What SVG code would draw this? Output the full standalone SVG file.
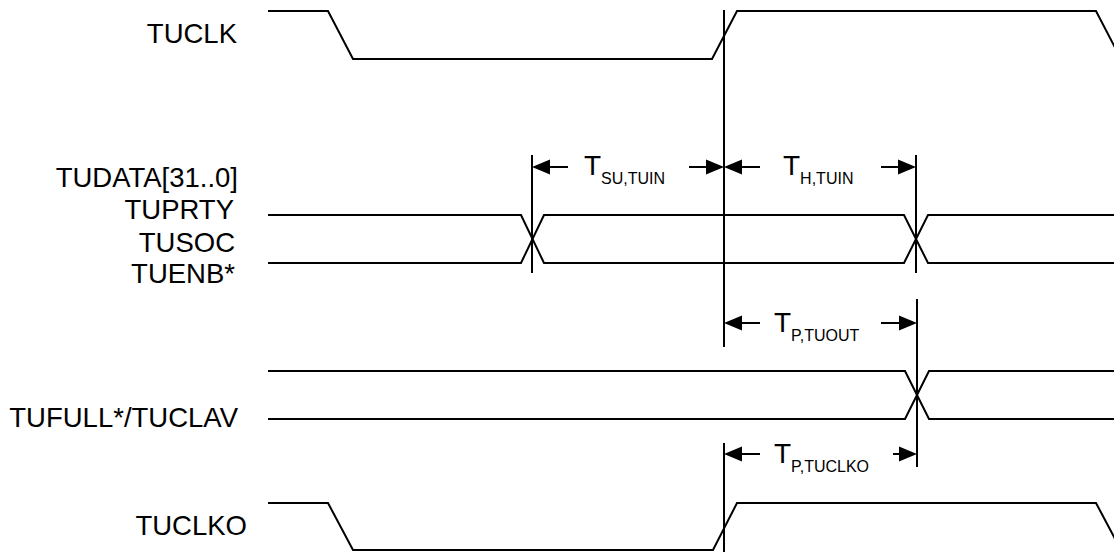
<svg xmlns="http://www.w3.org/2000/svg" width="1114" height="552" viewBox="0 0 1114 552">
<style>
.sig{fill:none;stroke:#000;stroke-width:2;stroke-linejoin:miter}
.vl{fill:none;stroke:#000;stroke-width:2}
.lbl{font-family:"Liberation Sans",Arial,sans-serif;font-size:27.5px;fill:#000;text-anchor:end}
.t{font-family:"Liberation Sans",Arial,sans-serif;font-size:28px;fill:#000}
.sub{font-size:16px}
.ah{fill:#000;stroke:none}
</style>
<defs>
<path id="hl" d="M0,0 L18,-7.5 L18,7.5 Z"/>
<path id="hr" d="M0,0 L-18,-7.5 L-18,7.5 Z"/>
</defs>
<rect width="1114" height="552" fill="#fff"/>
<g id="tuclk">
<text class="lbl" x="237" y="43">TUCLK</text>
<polyline class="sig" points="268,11 328,11 353,59 712,59 737,11 1096,11 1121,59"/>
</g>
<g id="tudata">
<text class="lbl" x="238" y="187">TUDATA[31..0]</text>
<text class="lbl" x="234" y="219">TUPRTY</text>
<text class="lbl" x="235" y="252">TUSOC</text>
<text class="lbl" x="235" y="283">TUENB*</text>
<polyline class="sig" points="268,215 521,215 544,263 904,263 928,215 1114,215"/>
<polyline class="sig" points="268,263 521,263 544,215 904,215 928,263 1114,263"/>
</g>
<g id="tufull">
<text class="lbl" x="238" y="427">TUFULL*/TUCLAV</text>
<polyline class="sig" points="268,371 905,371 929,419 1114,419"/>
<polyline class="sig" points="268,419 905,419 929,371 1114,371"/>
</g>
<g id="tuclko">
<text class="lbl" x="247" y="535">TUCLKO</text>
<polyline class="sig" points="268,503 328,503 353,550 713,550 737,503 1096,503 1121,550"/>
</g>
<g id="connectors">
<line class="vl" x1="724" y1="10" x2="724" y2="347"/>
<line class="vl" x1="724" y1="443" x2="724" y2="552"/>
<line class="vl" x1="532" y1="155" x2="532" y2="273"/>
<line class="vl" x1="916" y1="155" x2="916" y2="273"/>
<line class="vl" x1="917" y1="299" x2="917" y2="467"/>
<line class="vl" x1="540" y1="167" x2="568" y2="167"/>
<use href="#hl" class="ah" x="532" y="167"/>
<line class="vl" x1="689" y1="167" x2="716" y2="167"/>
<use href="#hr" class="ah" x="724" y="167"/>
<line class="vl" x1="732" y1="167" x2="760" y2="167"/>
<use href="#hl" class="ah" x="724" y="167"/>
<line class="vl" x1="881" y1="167" x2="908" y2="167"/>
<use href="#hr" class="ah" x="916" y="167"/>
<line class="vl" x1="732" y1="323" x2="760" y2="323"/>
<use href="#hl" class="ah" x="724" y="323"/>
<line class="vl" x1="881" y1="323" x2="909" y2="323"/>
<use href="#hr" class="ah" x="917" y="323"/>
<line class="vl" x1="732" y1="454" x2="760" y2="454"/>
<use href="#hl" class="ah" x="724" y="454"/>
<line class="vl" x1="893" y1="454" x2="909" y2="454"/>
<use href="#hr" class="ah" x="917" y="454"/>
<text class="t" x="584" y="175">T<tspan class="sub" dy="9">SU,TUIN</tspan></text>
<text class="t" x="783" y="175">T<tspan class="sub" dy="9">H,TUIN</tspan></text>
<text class="t" x="774" y="332">T<tspan class="sub" dy="9">P,TUOUT</tspan></text>
<text class="t" x="774" y="463">T<tspan class="sub" dy="9">P,TUCLKO</tspan></text>
</g>
</svg>
